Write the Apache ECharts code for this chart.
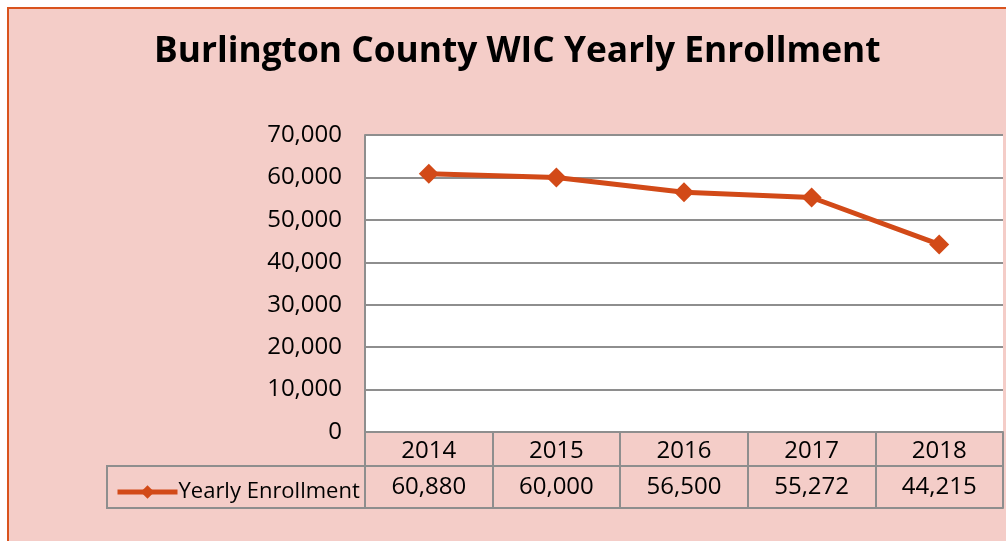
<!DOCTYPE html>
<html>
<head>
<meta charset="utf-8">
<script src="https://cdn.jsdelivr.net/npm/echarts@6/dist/echarts.min.js"></script>
<style>
html,body{margin:0;padding:0;background:#fff;width:1006px;height:541px;overflow:hidden;}
#bg{position:absolute;left:7px;top:7px;width:1000px;height:540px;background:#F4CDC8;border-top:2px solid #D9531E;border-left:2px solid #D9531E;box-sizing:border-box;}
#chart{position:absolute;left:0;top:0;width:1006px;height:541px;}
</style>
</head>
<body>
<div id="bg"></div>
<div id="chart"></div>
<script>
const titleText = 'Burlington County WIC Yearly Enrollment';
const seriesName = 'Yearly Enrollment';
const years = ['2014', '2015', '2016', '2017', '2018'];
const enrollment = [60880, 60000, 56500, 55272, 44215];
const yTicks = { min: 0, max: 70000, interval: 10000 };

const fmt = v => v.toLocaleString('en-US');
const FONT = 'Open Sans';
const GRAY = '#8E8E8E';
const ORANGE = '#D24A18';

const chart = echarts.init(document.getElementById('chart'));
chart.setOption({
  backgroundColor: 'transparent',
  animation: false,
  textStyle: { fontFamily: FONT },
  title: {
    text: titleText,
    left: 149,
    top: 29,
    textStyle: { fontFamily: FONT, fontSize: 35.3, fontWeight: 'bold', color: '#000' }
  },
  grid: { left: 365, right: 3, top: 135, bottom: 109, containLabel: false,
    show: true, backgroundColor: '#FFFFFF', borderWidth: 0 },
  legend: {
    data: [seriesName],
    left: 110,
    top: 476,
    itemWidth: 60,
    itemHeight: 17,
    itemGap: 0,
    lineStyle: { width: 5 },
    textStyle: { fontFamily: FONT, fontSize: 22, color: '#000', padding: [0, 0, 0, -4] }
  },
  xAxis: [
    {
      type: 'category', data: years, position: 'bottom',
      axisLine: { show: true, lineStyle: { color: GRAY, width: 2 } },
      axisTick: { show: true, length: 76, lineStyle: { color: GRAY, width: 2 } },
      axisLabel: { fontSize: 24, lineHeight: 24, color: '#000', margin: 7, fontFamily: FONT },
      splitLine: { show: false }
    },
    {
      type: 'category', data: years, position: 'bottom', offset: 34,
      axisLine: { show: true, lineStyle: { color: GRAY, width: 2 } },
      axisTick: { show: false },
      axisLabel: { fontSize: 24, lineHeight: 24, color: '#000', margin: 9, fontFamily: FONT,
        formatter: (v, i) => fmt(enrollment[i]) },
      splitLine: { show: false }
    },
    {
      type: 'category', data: years, position: 'bottom', offset: 76,
      axisLine: { show: true, lineStyle: { color: GRAY, width: 2 } },
      axisTick: { show: false },
      axisLabel: { show: false },
      splitLine: { show: false }
    }
  ],
  yAxis: {
    type: 'value', min: yTicks.min, max: yTicks.max, interval: yTicks.interval,
    axisLine: { show: true, lineStyle: { color: GRAY, width: 2 } },
    axisTick: { show: false },
    axisLabel: { fontSize: 24, color: '#000', margin: 23, fontFamily: FONT, formatter: v => fmt(v) },
    splitLine: { show: true, lineStyle: { color: GRAY, width: 2 } }
  },
  graphic: [
    { type: 'rect', shape: { x: 107, y: 466, width: 258, height: 42 },
      style: { fill: 'transparent', stroke: GRAY, lineWidth: 2 }, z: 0 }
  ],
  series: [{
    name: seriesName,
    type: 'line',
    data: enrollment,
    xAxisIndex: 0,
    symbol: 'diamond',
    symbolSize: 20,
    lineStyle: { color: ORANGE, width: 5 },
    itemStyle: { color: ORANGE }
  }]
});
</script>
</body>
</html>
